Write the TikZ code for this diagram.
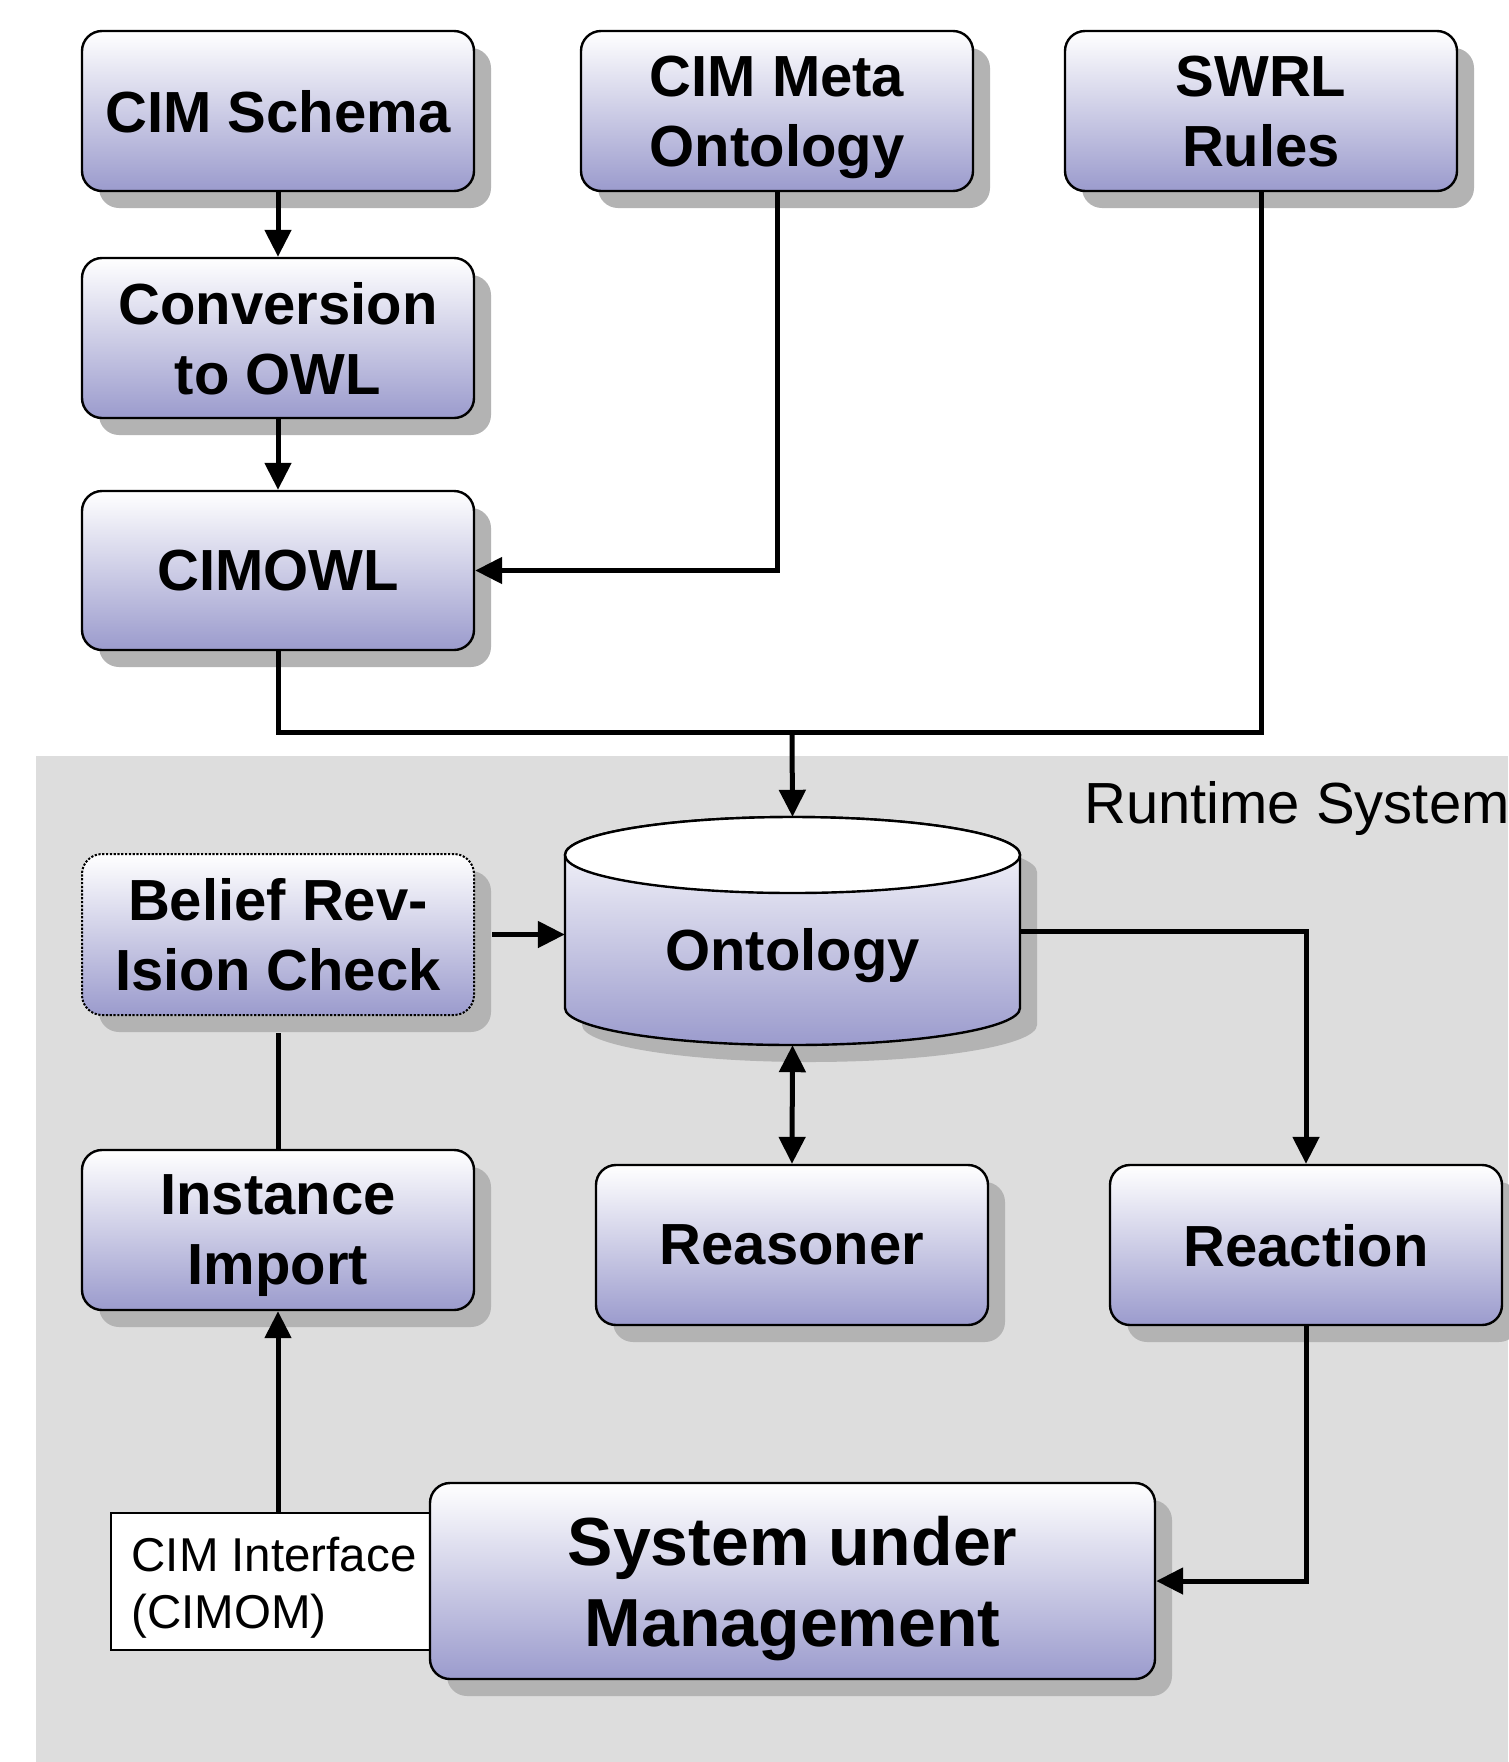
\documentclass[tikz,border=0pt]{standalone}
\usepackage{fontspec}
\setmainfont{Liberation Sans}
\usetikzlibrary{arrows.meta,shadows,calc}
\definecolor{lav}{RGB}{155,155,205}
\definecolor{bggray}{RGB}{221,221,221}
\definecolor{shadowc}{RGB}{179,179,179}
\tikzset{
  boxshadow/.style={drop shadow={shadow xshift=17pt,shadow yshift=-17pt,opacity=1,fill=shadowc}},
  procbox/.style={rectangle, rounded corners=20pt, draw=black, line width=2.4pt,
    top color=white, bottom color=lav, minimum width=392pt, minimum height=160pt,
    inner sep=0pt, align=center, boxshadow, text depth=0pt,
    font=\bfseries\fontsize{58}{70}\selectfont},
  conn/.style={line width=5pt, draw=black},
  arr/.style={conn, -{Triangle[length=27pt,width=26pt]}},
  darr/.style={conn, {Triangle[length=27pt,width=26pt]}-{Triangle[length=27pt,width=26pt]}},
}
\begin{document}
\begin{tikzpicture}[x=1pt,y=-1pt]
\useasboundingbox (0,0) rectangle (1508,1762);
\fill[white] (0,0) rectangle (1508,1762);
% runtime system region
\fill[bggray] (36,756) rectangle (1508,1762);
\node[anchor=base west, inner sep=0pt, font=\fontsize{58}{68}\selectfont] (rt) at (1084,823) {Runtime System};

% top boxes
\node[procbox] (schema) at (278,111) {CIM Schema};
\node[procbox] (meta) at (777,111) {CIM Meta\\Ontology};
\node[procbox] (swrl) at (1261,111) {SWRL\\Rules};
\node[procbox] (conv) at (278,338) {Conversion\\to OWL};
\node[procbox, minimum height=159pt] (cimowl) at (278,570.5) {CIMOWL};

% runtime boxes
\node[procbox, dash pattern=on 2.2pt off 1.6pt, line width=2pt, minimum height=161pt] (belief) at (278,934.5) {Belief Rev-\\Ision Check};
\node[procbox] (import) at (278,1230) {Instance\\Import};
\node[procbox] (reasoner) at (792,1245) {Reasoner};
\node[procbox] (reaction) at (1306,1245) {Reaction};

% CIM interface
\node[rectangle, draw=black, line width=2.4pt, fill=white, minimum width=319pt, minimum height=137pt,
      inner sep=0pt, text width=278pt, align=flush left, text height=47pt,
      font=\fontsize{47.5}{57}\selectfont] (iface) at (270.5,1581.5) {\mbox{CIM Interface}\\\mbox{(CIMOM)}};
\node[procbox, minimum width=725pt, minimum height=196pt, font=\bfseries\fontsize{68}{81}\selectfont] (sum) at (792.5,1581) {System under\\Management};

% Ontology cylinder
\fill[shadowc] (582,872) -- (582,1025) arc[start angle=180,end angle=360,x radius=227.5pt,y radius=37pt] -- (1037,872) arc[start angle=0,end angle=180,x radius=227.5pt,y radius=38pt] -- cycle;
\shade[top color=white, bottom color=lav, draw=black, line width=2.4pt]
  (565,855) -- (565,1008) arc[start angle=180,end angle=360,x radius=227.5pt,y radius=37pt] -- (1020,855) arc[start angle=0,end angle=180,x radius=227.5pt,y radius=38pt] -- cycle;
\draw[fill=white, line width=2.4pt] (792.5,855) ellipse[x radius=227.5pt, y radius=38pt];
\node[minimum width=455pt, minimum height=228pt, inner sep=0pt] (onto) at (792.5,931) {};
\node[font=\bfseries\fontsize{58}{70}\selectfont, inner sep=0pt] (ontotext) at (792.5,956) {Ontology};

% connectors
\coordinate (j) at (792,732);
\draw[arr] (schema.south) -- (conv.north);
\draw[arr] (conv.south) -- (cimowl.north);
\draw[arr] (meta.south) |- (cimowl.east);
\draw[conn] (cimowl.south) |- (j) -| (swrl.south);
\draw[arr] (j) -- (onto.north);
\draw[arr, shorten <=17pt] (belief.east) -- (belief.east -| onto.west);
\draw[arr] (onto.east) -| (reaction.north);
\draw[darr] (onto.south) -- (reasoner.north);
\draw[conn, shorten <=17pt] (belief.south) -- (import.north);
\draw[arr] (iface.north -| import.south) -- (import.south);
\draw[arr] (reaction.south) |- (sum.east);
\end{tikzpicture}
\end{document}
